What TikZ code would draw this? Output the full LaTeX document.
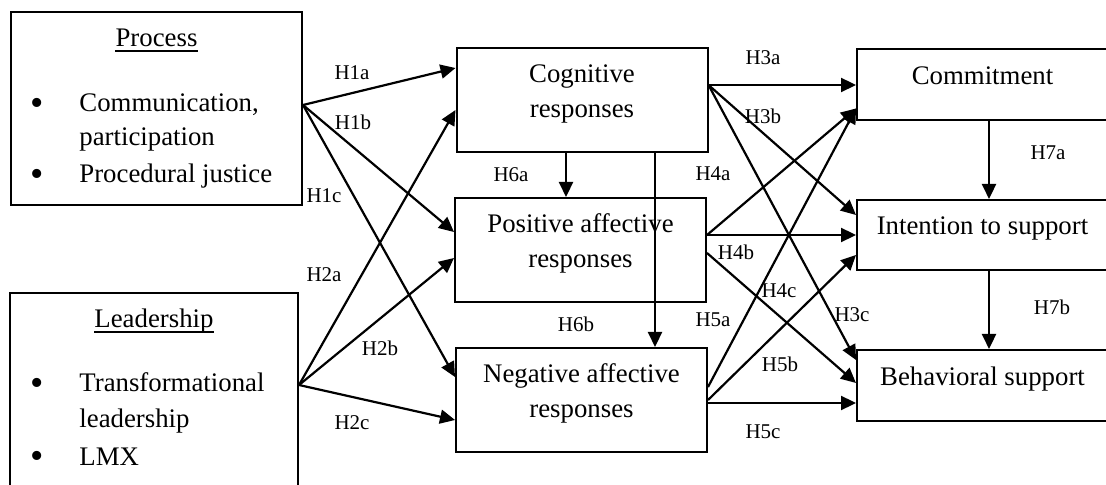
\documentclass[tikz,border=0pt]{standalone}
\usepackage{fontspec}
\setmainfont{Liberation Serif}
\usetikzlibrary{arrows.meta}

\begin{document}
\begin{tikzpicture}[x=0.5pt,y=-0.5pt]
	\tikzstyle{every node}+=[inner sep=0pt]
	\tikzstyle{boxed}=[draw=black, line width=1pt, font=\fontsize{13.4}{17.5}\selectfont, align=center]
	\tikzstyle{srcbox}=[boxed, minimum width=145.5pt]
	\tikzstyle{midbox}=[boxed, minimum width=125.5pt, minimum height=52pt, text height=26.5pt, text depth=9pt]
	\tikzstyle{outbox}=[boxed, minimum width=125.5pt, text height=9pt, text depth=9pt]
	\tikzstyle{itemtxt}=[font=\fontsize{13.4}{17.5}\selectfont, anchor=base west]
	\tikzstyle{bullet}=[font=\fontsize{19}{19}\selectfont, anchor=base]
	\tikzstyle{hyplabel}=[font=\fontsize{10.5}{12}\selectfont]
	\tikzstyle{hyparrow}=[line width=1.1pt, -{Triangle[length=7.5pt,width=7pt]}]
	\useasboundingbox (0,0) rectangle (1106,485);

	% antecedents
	\node [srcbox, minimum height=96.5pt] (proc) at (156.5,108.5) {};
	\node [itemtxt, anchor=base] (proctitle) at (156.5,47) {Process};
	\draw [line width=0.6pt] ([yshift=-2pt]proctitle.base west) -- ([yshift=-2pt]proctitle.base east);
	\node [bullet] (pbull1) at (37,115.4) {\textbullet};
	\node [itemtxt] (pitem1) at (79,111.7) {Communication,};
	\node [itemtxt] (pitem1b) at (79,146) {participation};
	\node [bullet] (pbull2) at (37,186.4) {\textbullet};
	\node [itemtxt] (pitem2) at (79,182.7) {Procedural justice};

	\node [srcbox, minimum width=144pt, minimum height=118.5pt] (lead) at (154,411.5) {};
	\node [itemtxt, anchor=base] (leadtitle) at (154,328) {Leadership};
	\draw [line width=0.6pt] ([yshift=-2pt]leadtitle.base west) -- ([yshift=-2pt]leadtitle.base east);
	\node [bullet] (lbull1) at (37,395.7) {\textbullet};
	\node [itemtxt] (litem1) at (79,392) {Transformational};
	\node [itemtxt] (litem1b) at (79,427) {leadership};
	\node [bullet] (lbull2) at (37,468.7) {\textbullet};
	\node [itemtxt] (litem2) at (79,465) {LMX};

	% responses
	\node [midbox] (cog) at (582,100.5) {Cognitive\\responses};
	\node [midbox] (pos) at (580.5,250) {Positive affective\\responses};
	\node [midbox] (neg) at (581.5,400) {Negative affective\\responses};

	% outcomes
	\node [outbox, minimum height=35.5pt] (com) at (982.5,84.5) {Commitment};
	\node [outbox, minimum height=35pt] (int) at (982.5,235) {Intention to support};
	\node [outbox, minimum height=35.5pt] (beh) at (982.5,385.5) {Behavioral support};

	% start points
	\coordinate (po) at ([yshift=1.75pt]proc.east);
	\coordinate (lo) at ([yshift=-46.5pt]lead.north east);
	\coordinate (co) at ([yshift=7.75pt]cog.east);
	\coordinate (pa) at ([yshift=7.5pt]pos.east);
	\coordinate (pb) at ([yshift=-1.5pt]pos.east);
	\coordinate (na) at ([yshift=6.5pt]neg.east);
	\coordinate (nb) at (neg.east);
	\coordinate (nc) at ([yshift=-1.5pt]neg.east);

	% H1, H2
	\draw [hyparrow] (po) -- ([yshift=16.25pt]cog.west);
	\draw [hyparrow] (po) -- ([yshift=9pt]pos.west);
	\draw [hyparrow] (po) -- ([yshift=11.5pt]neg.west);
	\draw [hyparrow] (lo) -- ([yshift=-4.75pt]cog.west);
	\draw [hyparrow] (lo) -- ([yshift=-4pt]pos.west);
	\draw [hyparrow] (lo) -- ([yshift=-10pt]neg.west);
	% H6
	\draw [hyparrow] ([xshift=-8pt]cog.south) -- ([xshift=-8pt]cog.south |- pos.north);
	\draw [hyparrow] ([xshift=36.5pt]cog.south) -- ([xshift=36.5pt]cog.south |- neg.north);
	% H3, H4, H5
	\draw [hyparrow] (co) -- (co -| com.west);
	\draw [hyparrow] (co) -- ([yshift=10pt]int.west);
	\draw [hyparrow] (co) -- ([yshift=12.75pt]beh.west);
	\draw [hyparrow] (pa) -- ([yshift=-12pt]com.west);
	\draw [hyparrow] (pa) -- (pa -| int.west);
	\draw [hyparrow] (pb) -- ([yshift=1.25pt]beh.west);
	\draw [hyparrow] (na) -- ([yshift=-12pt]com.west);
	\draw [hyparrow] (nb) -- ([yshift=-10pt]int.west);
	\draw [hyparrow] (nc) -- (nc -| beh.west);
	% H7
	\draw [hyparrow] ([xshift=3.25pt]com.south) -- ([xshift=3.25pt]com.south |- int.north);
	\draw [hyparrow] ([xshift=3.25pt]int.south) -- ([xshift=3.25pt]int.south |- beh.north);

	% labels
	\node [hyplabel] (h1a) at (352,73) {H1a};
	\node [hyplabel] (h1b) at (353,122) {H1b};
	\node [hyplabel] (h1c) at (324,196) {H1c};
	\node [hyplabel] (h2a) at (324,275) {H2a};
	\node [hyplabel] (h2b) at (380,348) {H2b};
	\node [hyplabel] (h2c) at (352,423) {H2c};
	\node [hyplabel] (h6a) at (511,175) {H6a};
	\node [hyplabel] (h6b) at (576,324) {H6b};
	\node [hyplabel] (h3a) at (763,58) {H3a};
	\node [hyplabel] (h3b) at (763,116) {H3b};
	\node [hyplabel] (h3c) at (852,315) {H3c};
	\node [hyplabel] (h4a) at (713,174) {H4a};
	\node [hyplabel] (h4b) at (736,252) {H4b};
	\node [hyplabel] (h4c) at (779,291) {H4c};
	\node [hyplabel] (h5a) at (713,320) {H5a};
	\node [hyplabel] (h5b) at (780,364) {H5b};
	\node [hyplabel] (h5c) at (763,432) {H5c};
	\node [hyplabel] (h7a) at (1048,153) {H7a};
	\node [hyplabel] (h7b) at (1052,307) {H7b};
\end{tikzpicture}
\end{document}
